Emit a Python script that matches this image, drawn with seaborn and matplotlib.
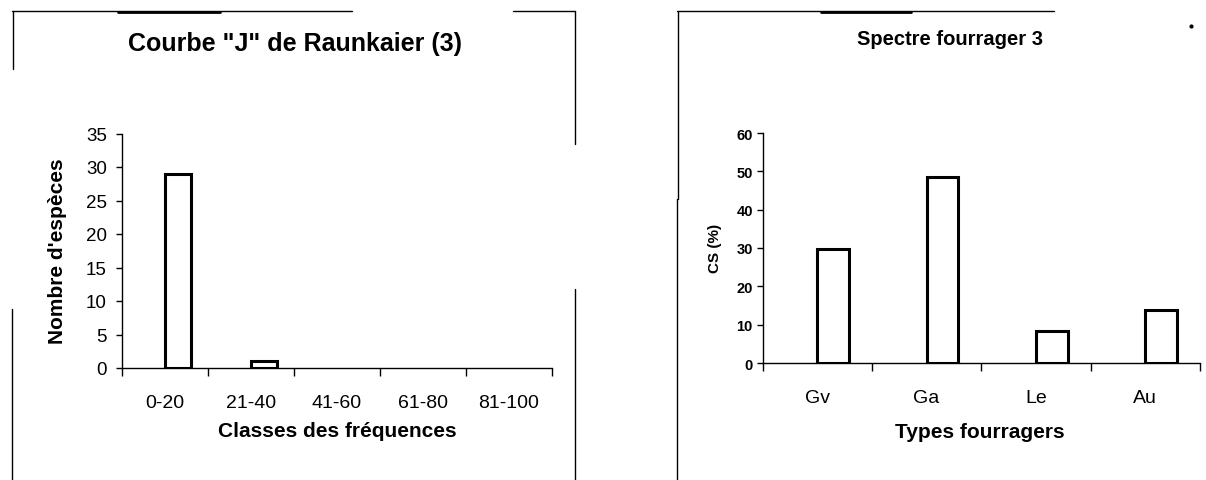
import matplotlib
matplotlib.use("Agg")
import matplotlib.pyplot as plt
from matplotlib.lines import Line2D
import seaborn as sns
import pandas as pd

# ---- data ----
classes = ["0-20", "21-40", "41-60", "61-80", "81-100"]
nb_especes = [29, 1, 0, 0, 0]
types_fourragers = ["Gv", "Ga", "Le", "Au"]
cs_pct = [29.7, 48.4, 8.4, 13.7]
y_ticks_left = [0, 5, 10, 15, 20, 25, 30, 35]
y_ticks_right = [0, 10, 20, 30, 40, 50, 60]

sns.set_style("white")
plt.rcParams['font.family'] = ['Liberation Sans', 'DejaVu Sans']
for k in ["text.color", "axes.labelcolor", "xtick.color", "ytick.color"]:
    plt.rcParams[k] = "black"

W, H = 1206, 481
fig = plt.figure(figsize=(W / 100, H / 100), dpi=100)
fig.patch.set_facecolor("white")


def fx(px):
    return px / W


def fy(py):
    return 1 - py / H


def axes_rect(x0, x1, ytop, ybot):
    return [fx(x0), fy(ybot), fx(x1) - fx(x0), fy(ytop) - fy(ybot)]


ax1 = fig.add_axes(axes_rect(122, 552, 134.5, 369))
ax2 = fig.add_axes(axes_rect(762.5, 1200, 134, 364))

df1 = pd.DataFrame({"classe": classes, "n": nb_especes, "serie": "valeur"})
df2 = pd.DataFrame({"type": types_fourragers, "cs": cs_pct, "serie": "valeur"})
pal = {"vide": "white", "valeur": "white"}

sns.barplot(data=df1, x="classe", y="n", hue="serie", hue_order=["vide", "valeur"],
            dodge=True, palette=pal, saturation=1, width=0.6, edgecolor="black",
            linewidth=2.2, legend=False, errorbar=None, ax=ax1, zorder=3)
sns.barplot(data=df2, x="type", y="cs", hue="serie", hue_order=["vide", "valeur"],
            dodge=True, palette=pal, saturation=1, width=0.58, edgecolor="black",
            linewidth=2.2, legend=False, errorbar=None, ax=ax2, zorder=3)

# zero-height bars: no visible outline (only the axis line shows)
for ax in (ax1, ax2):
    for p in ax.patches:
        if p.get_height() == 0:
            p.set_linewidth(0)


def style_axis(ax, n, yticks, ytick_fs, ytick_weight, xtick_fs, ypad):
    ax.set_facecolor("white")
    ax.set_xlim(-0.5, n - 0.5)
    ax.set_ylim(yticks[0], yticks[-1])
    for s in ["top", "right"]:
        ax.spines[s].set_visible(False)
    for s in ["left", "bottom"]:
        ax.spines[s].set_color("black")
        ax.spines[s].set_linewidth(1.0)
    ax.set_yticks(yticks)
    ax.set_yticklabels([str(t) for t in yticks], fontsize=ytick_fs, fontweight=ytick_weight)
    ax.tick_params(axis="y", which="major", direction="out", length=4, width=1.0,
                   color="black", pad=ypad, left=True)
    # boundary ticks (major) without labels, category labels as minor ticks
    ax.set_xticks([i - 0.5 for i in range(n + 1)])
    ax.set_xticklabels([""] * (n + 1))
    ax.set_xticks(list(range(n)), minor=True)
    ax.tick_params(axis="x", which="major", direction="out", length=6, width=1.0,
                   color="black", bottom=True)
    ax.tick_params(axis="x", which="minor", length=0, pad=19, labelsize=xtick_fs)
    ax.grid(False)


style_axis(ax1, len(classes), y_ticks_left, 13.5, "normal", 14, 7)
ax1.set_xticklabels(classes, minor=True)
style_axis(ax2, len(types_fourragers), y_ticks_right, 10.5, "bold", 14, 3)
ax2.set_xticklabels(types_fourragers, minor=True)

ax1.set_xlabel("Classes des fréquences", fontsize=15, fontweight="bold")
ax1.xaxis.set_label_coords(0.5, -0.226)
ax1.set_ylabel("Nombre d'espèces", fontsize=15, fontweight="bold")
ax1.yaxis.set_label_coords(-0.128, 0.503)

ax2.set_xlabel("Types fourragers", fontsize=15, fontweight="bold")
ax2.xaxis.set_label_coords(0.497, -0.255)
ax2.set_ylabel("CS (%)", fontsize=11, fontweight="bold")
ax2.yaxis.set_label_coords(-0.0926, 0.504)

# titles (centred on each chart area)
fig.text(fx(295), fy(51), 'Courbe "J" de Raunkaier (3)', fontsize=18,
         fontweight="bold", ha="center", va="baseline")
fig.text(fx(950), fy(45), "Spectre fourrager 3", fontsize=14.5,
         fontweight="bold", ha="center", va="baseline")

# chart-area frames (partially visible, as in the scanned original)
segments = [
    ((12, 12), (352, 12), 1.0), ((513, 12), (575, 12), 1.0), ((118, 12.5), (220, 12.5), 2.0),
    ((13, 12), (13, 70), 1.0), ((12, 310), (12, 481), 1.0),
    ((575, 12), (575, 145), 1.0), ((575, 290), (575, 481), 1.0),
    ((677, 12), (1054, 12), 1.0), ((821, 12.5), (911, 12.5), 2.0),
    ((678, 12), (678, 200), 1.0), ((677, 200), (677, 481), 1.0),
]
for (x0, y0), (x1, y1), lw in segments:
    fig.add_artist(Line2D([fx(x0), fx(x1)], [fy(y0), fy(y1)], transform=fig.transFigure,
                          color="black", linewidth=lw))
fig.add_artist(Line2D([fx(1191)], [fy(27)], transform=fig.transFigure, marker="o",
                      markersize=2, color="black", linestyle="none"))

fig.savefig("out.png", dpi=100, facecolor="white")
